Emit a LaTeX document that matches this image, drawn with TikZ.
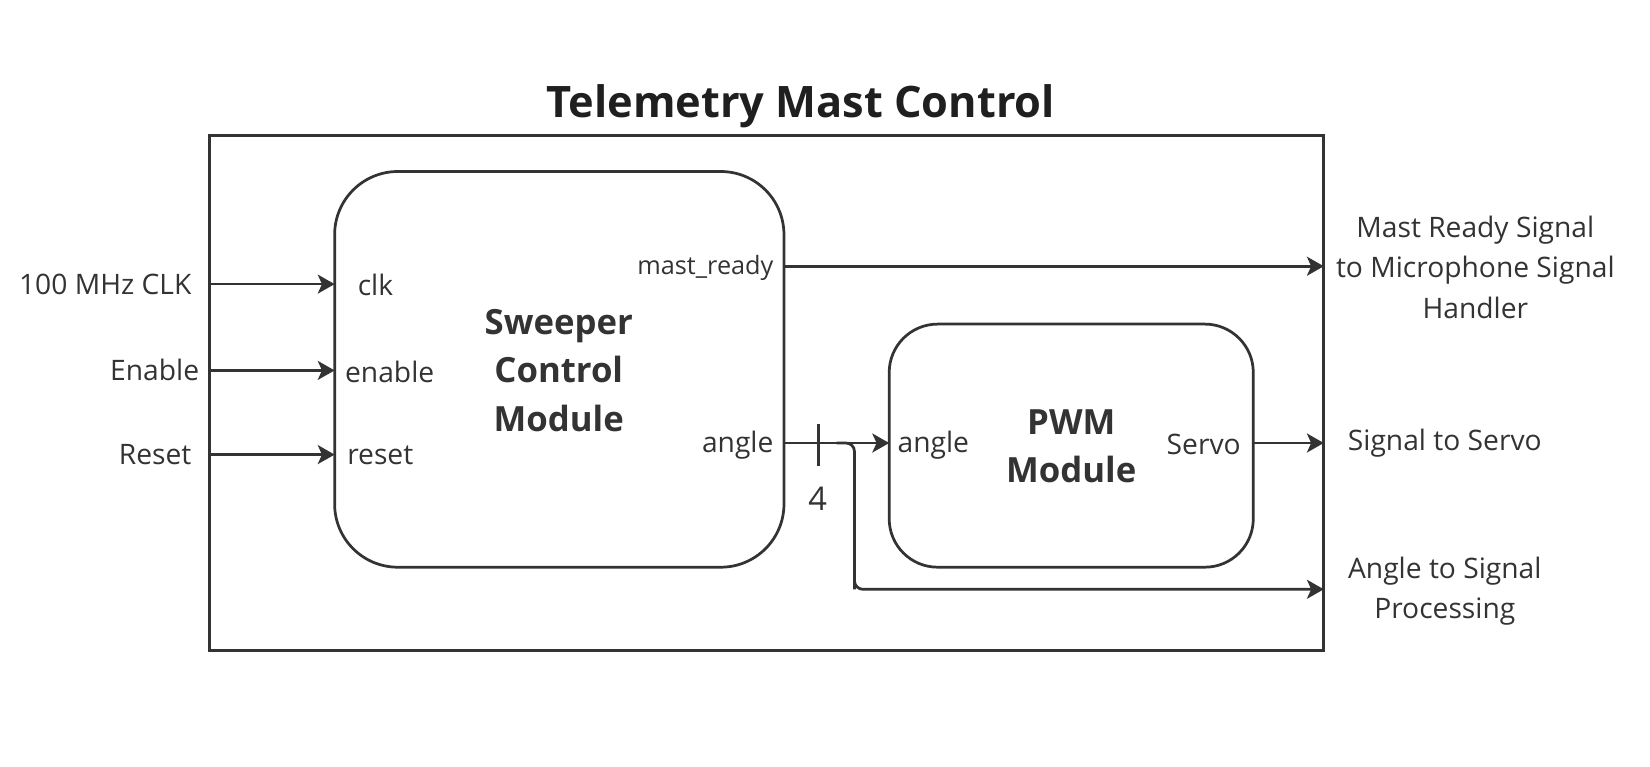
\documentclass[tikz,border=0pt]{standalone}
\usepackage{fontspec}
\setmainfont{Open Sans}
\usetikzlibrary{arrows.meta}
\definecolor{ink}{HTML}{333333}
\begin{document}
\begin{tikzpicture}[x=0.5pt,y=-0.5pt,
  every node/.style={inner sep=0pt,outer sep=0pt,text=ink},
  wire/.style={draw=ink,line width=1.3pt},
  arr/.style={wire,-{Stealth[length=8pt,width=9pt,inset=2pt]}},
  box/.style={draw=ink,line width=1.3pt},
  lbl/.style={font=\fontsize{13.4}{19.25}\selectfont,align=center},
  port/.style={font=\fontsize{13.4}{16}\selectfont},
  small/.style={font=\fontsize{12}{14}\selectfont},
  modtxt/.style={font=\fontsize{16.5}{23}\selectfont\bfseries,align=center}]
\useasboundingbox (0,0) rectangle (1568,728);
% title
\node[font=\fontsize{20.6}{24}\selectfont\bfseries,text=black!88] (title) at (761,101) {Telemetry Mast Control};
% outer box
\node[box,minimum width=529.5pt,minimum height=244.5pt,anchor=north west] (outer) at (199,129) {};
% modules
\draw[box,rounded corners=30pt] (318,163) rectangle (745,539);
\node[minimum width=213.5pt,minimum height=188pt,anchor=north west] (sw) at (318,163) {};
\draw[box,rounded corners=23pt] (845,308) rectangle (1191,539);
\node[minimum width=173pt,minimum height=115.5pt,anchor=north west] (pwm) at (845,308) {};
\node[modtxt] (swt) at (531,352) {Sweeper\\Control\\Module};
\node[modtxt] (pwmt) at (1018,424) {PWM\\Module};
% left inputs
\node[lbl] (clkin) at (100,270) {100 MHz CLK};
\node[lbl] (enin) at (147,352) {Enable};
\node[lbl] (rstin) at (147.5,432) {Reset};
\coordinate (a1) at (199,270); \coordinate (b1) at (318,270);
\coordinate (a2) at (199,352); \coordinate (b2) at (318,352);
\coordinate (a3) at (199,432); \coordinate (b3) at (318,432);
\draw[arr] (a1) -- (b1);
\draw[arr] (a2) -- (b2);
\draw[arr] (a3) -- (b3);
% sweeper ports
\node[port,anchor=west] (pclk) at (340,271) {clk};
\node[port,anchor=west] (pen) at (328,353) {enable};
\node[port,anchor=west] (prst) at (330,433) {reset};
\node[small,anchor=east] (pmr) at (735,255) {mast\_ready};
\node[port,anchor=east] (pang) at (735,423) {angle};
% pwm ports
\node[port,anchor=west] (qang) at (853,423) {angle};
\node[port,anchor=east] (qsrv) at (1179,422) {Servo};
% outputs
\coordinate (m1) at (745,253); \coordinate (m2) at (1258,253);
\draw[arr] (m1) -- (m2);
\coordinate (g1) at (745,421); \coordinate (g2) at (845,421);
\draw[arr] (g1) -- (g2);
\coordinate (t1) at (778,403); \coordinate (t2) at (778,443);
\draw[wire] (t1) -- (t2);
\node[font=\fontsize{15.5}{18}\selectfont] (four) at (777,474) {4};
\coordinate (br0) at (795,421); \coordinate (br1) at (812,560); \coordinate (br2) at (1258,560);
\draw[wire,rounded corners=4pt] (br0) -| (br1);
\draw[arr,rounded corners=4pt] (812,540) |- (br2);
\coordinate (s1) at (1191,421); \coordinate (s2) at (1258,421);
\draw[arr] (s1) -- (s2);
% right labels
\node[lbl] (o1) at (1402,254) {Mast Ready Signal\\to Microphone Signal\\Handler};
\node[lbl] (o2) at (1373,421) {Signal to Servo};
\node[lbl] (o3) at (1373,562) {Angle to Signal\\Processing};
\end{tikzpicture}
\end{document}
